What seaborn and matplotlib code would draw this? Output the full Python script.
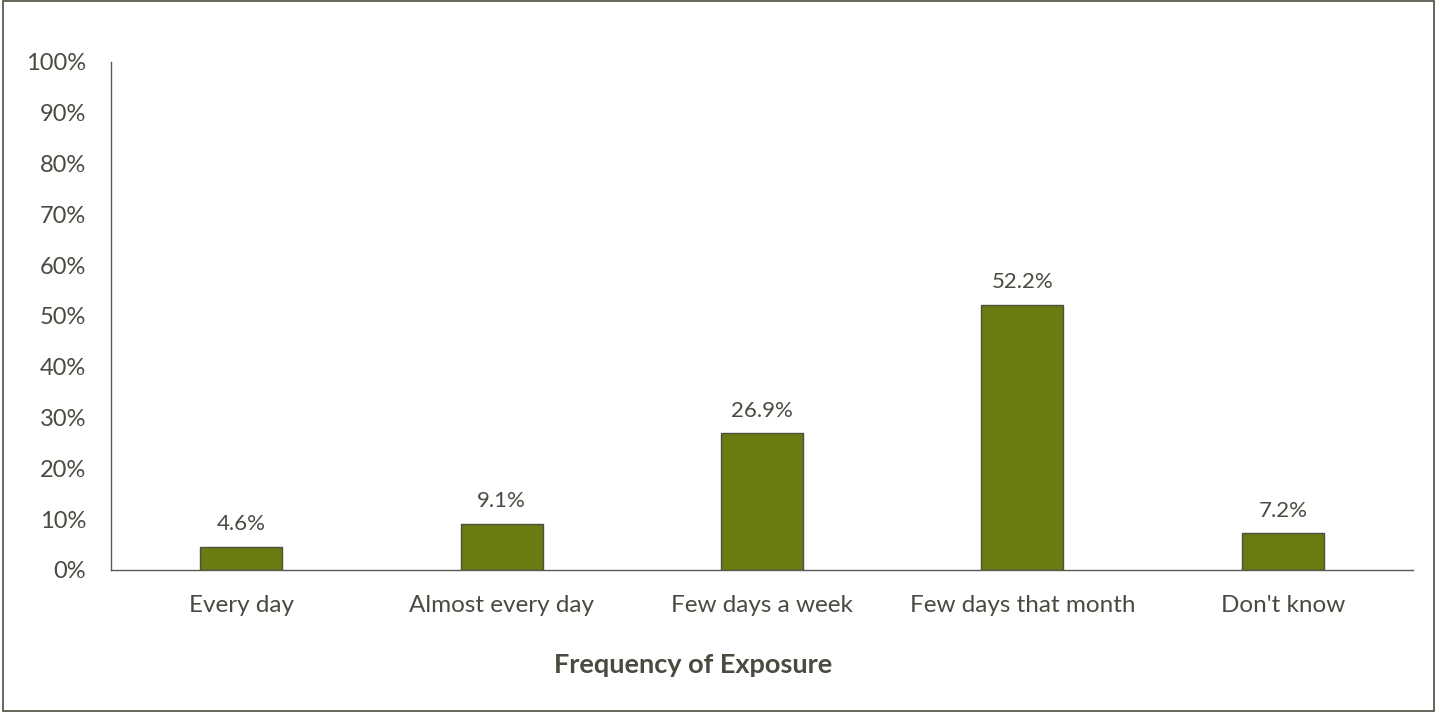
import matplotlib
matplotlib.use("Agg")
import matplotlib.pyplot as plt
import seaborn as sns
import pandas as pd
from matplotlib.patches import Rectangle

categories = ["Every day", "Almost every day", "Few days a week", "Few days that month", "Don't know"]
values = [4.6, 9.1, 26.9, 52.2, 7.2]
yticks = [0, 10, 20, 30, 40, 50, 60, 70, 80, 90, 100]
xlabel = "Frequency of Exposure"

sns.set_theme(style="white")
plt.rcParams['font.family'] = ['Lato', 'DejaVu Sans']
TXT = "#4a4a40"

df = pd.DataFrame({"cat": categories, "val": values})
fig = plt.figure(figsize=(14.37, 7.12), dpi=100)
ax = fig.add_axes([111/1437, 1-570/712, (1413-111)/1437, (570-62)/712])
sns.barplot(data=df, x="cat", y="val", color="#6a7b12", width=0.315,
            edgecolor="#4d4d40", linewidth=1.0, saturation=1, ax=ax)

ax.set_ylim(0, 100)
ax.set_xlim(-0.5, len(categories) - 0.5)
ax.set_yticks(yticks)
ax.set_yticklabels([f"{t}%" for t in yticks])
ax.tick_params(axis='y', length=0, pad=18, labelsize=17, labelcolor=TXT)
ax.tick_params(axis='x', length=0, pad=18, labelsize=17.5, labelcolor=TXT)
ax.set_xlabel("")
ax.set_ylabel("")
for s in ["top", "right"]:
    ax.spines[s].set_visible(False)
for s in ["left", "bottom"]:
    ax.spines[s].set_color("#5a5a50")
    ax.spines[s].set_linewidth(1.0)

for c in ax.containers:
    ax.bar_label(c, labels=[f"{v:.1f}%" for v in values], padding=9,
                 fontsize=16, color=TXT)

fig.text(693/1437, 1-665/712, xlabel, ha="center", va="center",
         fontsize=19.5, fontweight="bold", color=TXT)

fig.patches.append(Rectangle((0.002, 0.002), 0.996, 0.996, transform=fig.transFigure,
                             fill=False, edgecolor="#4d4d40", linewidth=1.2))

fig.savefig("out.png", dpi=100)
